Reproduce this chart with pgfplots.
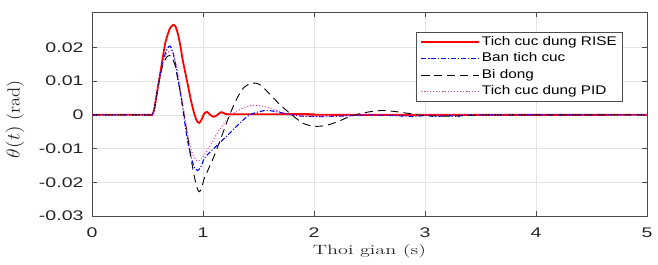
\documentclass[border=0pt]{standalone}
\usepackage{fontspec}
\usepackage{graphicx}
\usepackage{pgfplots}
\pgfplotsset{compat=1.18}
\newfontfamily\ticksf[FakeStretch=1.4]{Liberation Sans}
\newfontfamily\legsf[FakeStretch=1.22]{Liberation Sans}
\begin{document}
\begin{tikzpicture}
\begin{axis}[
  name=ax,
  scale only axis,
  width=555bp, height=204bp,
  xmin=0, xmax=5, ymin=-0.03, ymax=0.0305,
  xtick={0,1,2,3,4,5},
  ytick={-0.03,-0.02,-0.01,0,0.01,0.02},
  yticklabels={-0.03,-0.02,-0.01,0,0.01,0.02},
  tick align=inside,
  major tick length=5bp,
  xtick pos=both, ytick pos=both,
  grid=major,
  grid style={gray!22, line width=0.6pt},
  axis line style={black!70, line width=0.8pt},
  tick style={black!70, line width=0.6pt},
  /pgf/number format/assume math mode=true,
  ticklabel style={font=\ticksf\fontsize{14}{16}\selectfont, black!85},
  xticklabel style={yshift=-8bp},
  yticklabel style={xshift=-5bp},
  scaled y ticks=false,
  xlabel={\scalebox{1.5}[1.0]{Thoi gian (s)}},
  ylabel={\scalebox{1.38}[1.3]{$\theta(t)$ (rad)}},
  label style={font=\fontsize{13.5}{15}\selectfont, black!85},
  xlabel style={at={(axis description cs:0.5,0)}, anchor=center, yshift=-35bp},
  ylabel style={at={(axis description cs:0,0.5)}, anchor=center, yshift=77bp, xshift=-5bp},
  legend style={at={(0.957,0.902)}, anchor=north east, draw=black!70, line width=0.8pt,
    font=\legsf\fontsize{12.6}{15}\selectfont, row sep=0pt,
    inner xsep=4bp, inner ysep=1.5bp,
    nodes={inner ysep=1bp, text height=10.5bp, text depth=4bp}},
  legend cell align=left,
  legend image post style={xscale=3.4},
]
\addplot[red, line width=1.8pt, smooth, tension=0.4] coordinates {
(0,0) (0.5,0) (0.54,0) (0.56,0.0015) (0.587,0.0069) (0.617,0.0127) (0.64,0.0175)
(0.662,0.0216) (0.70,0.0255) (0.733,0.0267) (0.755,0.026) (0.78,0.0232) (0.80,0.0197)
(0.82,0.0158) (0.845,0.0118) (0.87,0.0078) (0.89,0.0045) (0.92,0.0005) (0.945,-0.0018)
(0.967,-0.0024) (0.99,-0.0012) (1.01,0.0003) (1.036,0.0009) (1.065,0.0) (1.097,-0.0006)
(1.13,0.0) (1.164,0.0008) (1.20,0.0003) (1.23,0.0002) (1.5,0.0002) (2.0,0.0002) (2.1,0) (5,0)
};
\addlegendentry{Tich cuc dung RISE}
\addplot[blue, line width=1.1pt, dash pattern=on 5pt off 2pt on 1pt off 2pt, smooth, tension=0.4] coordinates {
(0,0) (0.5,0) (0.54,0) (0.56,0.0015) (0.587,0.0069) (0.617,0.0125) (0.645,0.0165)
(0.675,0.0195) (0.703,0.0204) (0.725,0.019) (0.75,0.0155) (0.768,0.0118) (0.80,0.0058)
(0.83,-0.001) (0.86,-0.0075) (0.89,-0.012) (0.92,-0.0155) (0.951,-0.0165) (0.98,-0.0155)
(1.01,-0.013) (1.04,-0.0118) (1.09,-0.0102) (1.15,-0.0083) (1.23,-0.0058) (1.315,-0.003)
(1.38,-0.001) (1.44,0.0003) (1.56,0.0013) (1.65,0.001) (1.8,0.0) (1.9,-0.0004) (2.1,-0.0005)
(2.3,-0.0003) (2.5,0.0) (2.7,-0.0002) (2.9,-0.0005) (3.0,-0.0002) (3.1,-0.0005) (3.2,-0.0002)
(3.3,-0.0005) (3.45,0) (5,0)
};
\addlegendentry{Ban tich cuc}
\addplot[black, line width=0.9pt, dash pattern=on 8pt off 5pt, smooth, tension=0.4] coordinates {
(0,0) (0.5,0) (0.54,0) (0.56,0.0015) (0.587,0.0068) (0.617,0.012) (0.645,0.0155)
(0.675,0.0172) (0.70,0.0176) (0.72,0.017) (0.75,0.0145) (0.78,0.0095) (0.81,0.004)
(0.84,-0.002) (0.87,-0.008) (0.89,-0.0125) (0.92,-0.018) (0.945,-0.0215) (0.965,-0.0228)
(0.985,-0.022) (1.01,-0.019) (1.05,-0.016) (1.10,-0.0122) (1.15,-0.008) (1.20,-0.0035)
(1.24,0) (1.30,0.0045) (1.36,0.0078) (1.42,0.0092) (1.47,0.0094) (1.52,0.0088) (1.6,0.0062)
(1.7,0.0028) (1.8,0.0) (1.9,-0.0025) (2.0,-0.0034) (2.1,-0.0032) (2.2,-0.0022) (2.3,-0.0008)
(2.37,0) (2.5,0.0009) (2.62,0.0013) (2.75,0.0009) (2.9,0.0002) (3.0,-0.0002) (3.2,-0.0004)
(3.4,-0.0002) (3.6,0) (5,0)
};
\addlegendentry{Bi dong}
\addplot[magenta!80, line width=1.0pt, dotted, smooth, tension=0.4] coordinates {
(0,0) (0.5,0) (0.54,0) (0.56,0.0015) (0.587,0.0069) (0.617,0.0125) (0.645,0.0163)
(0.68,0.0185) (0.715,0.019) (0.74,0.0175) (0.77,0.013) (0.80,0.007) (0.83,0.0005)
(0.86,-0.0055) (0.89,-0.0100) (0.92,-0.0127) (0.95,-0.0137) (0.98,-0.0132) (1.02,-0.0115)
(1.088,-0.0078) (1.13,-0.0053) (1.18,-0.003) (1.23,-0.0008) (1.28,0.0006) (1.36,0.002)
(1.44,0.0028) (1.52,0.0027) (1.6,0.002) (1.7,0.0009) (1.8,0.0) (1.9,-0.0004) (2.1,-0.0005)
(2.3,-0.0002) (2.5,0) (5,0)
};
\addlegendentry{Tich cuc dung PID}
\end{axis}
\pgfresetboundingbox
\path ([xshift=-92bp,yshift=-48bp]ax.south west) rectangle ([xshift=11bp,yshift=12bp]ax.north east);
\end{tikzpicture}
\end{document}
